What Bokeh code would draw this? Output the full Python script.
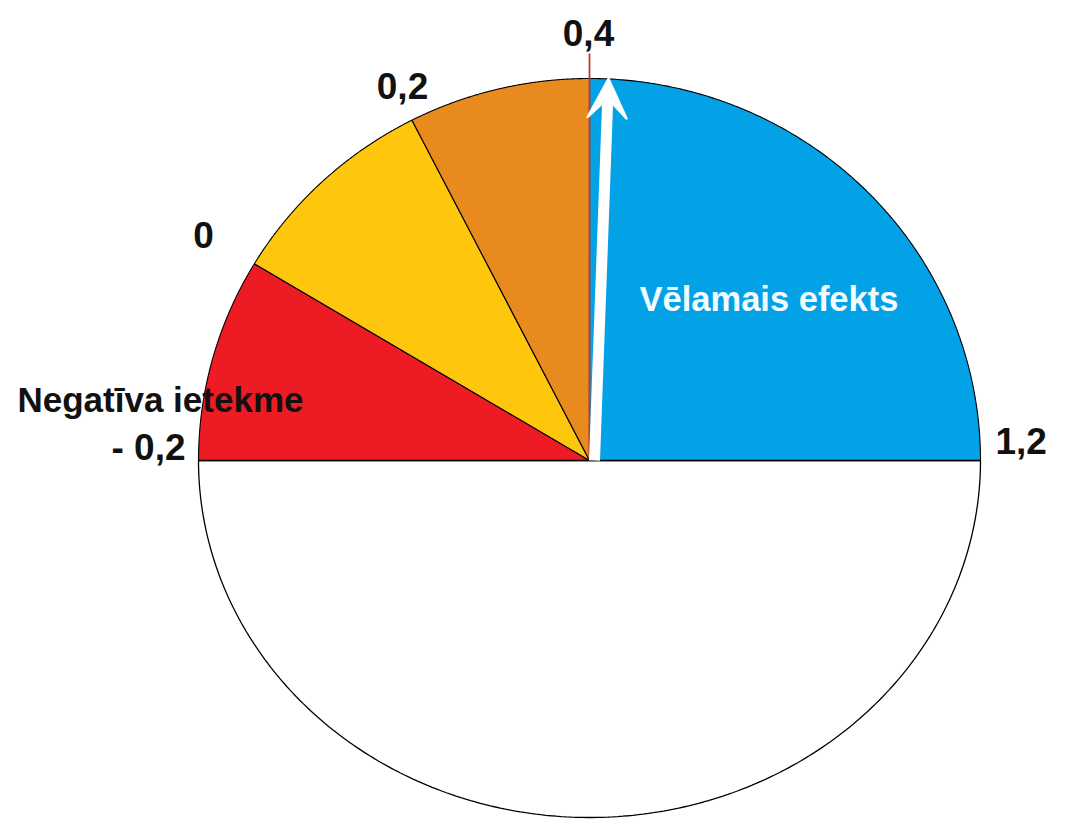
import numpy as np
from bokeh.plotting import figure
from bokeh.models import Range1d, Arrow, VeeHead, ColumnDataSource
from bokeh.core.properties import value
from bokeh.embed import file_html
from bokeh.resources import INLINE

# ---- data ----
segment_names = ["Negatīva ietekme", "", "", "Vēlamais efekts"]
segment_degrees = [31, 32, 27, 90]          # red, yellow, orange, blue (upper half, from 180° clockwise)
tick_labels = ["- 0,2", "0", "0,2", "0,4", "1,2"]

# ---- styles / layout ----
seg_colors = ["#ED1C24", "#FFC60E", "#E98A1F", "#03A1E6"]
W, H = 1050, 819
cx, cy = 589, 835 - 460    # centre in data units (= pixels, y up)
a, b_top, b_bot = 391, 382, 357

p = figure(width=W, height=H, output_backend="svg", toolbar_location=None,
           x_range=Range1d(0, W), y_range=Range1d(835 - H, 835),
           min_border=0, outline_line_color=None)
p.axis.visible = False
p.grid.visible = False
p.background_fill_color = "white"


def arc(t0, t1, b):
    t = np.radians(np.linspace(t0, t1, 240))
    return cx + a * np.cos(t), cy + b * np.sin(t)

# lower half (white)
xs, ys = arc(180, 360, b_bot)
p.patch(list(xs), list(ys), fill_color="white", line_color="black", line_width=1.3)

# upper segments
bounds = 180 - np.concatenate([[0], np.cumsum(segment_degrees)])
pxs, pys = [], []
for i in range(len(segment_degrees)):
    x, y = arc(bounds[i], bounds[i + 1], b_top)
    pxs.append([cx] + list(x) + [cx])
    pys.append([cy] + list(y) + [cy])
src = ColumnDataSource(dict(xs=pxs, ys=pys, color=seg_colors))
p.patches("xs", "ys", source=src, fill_color="color", line_color="black", line_width=1.1)

# diameter line
p.segment(x0=[cx - a], y0=[cy], x1=[cx + a], y1=[cy], line_color="black", line_width=1.3)

# red marker line at 0,4
p.segment(x0=[cx], y0=[cy], x1=[cx], y1=[cy + b_top + 25], line_color="#B5403A", line_width=1.8)

# white arrow
p.add_layout(Arrow(end=VeeHead(size=40, fill_color="white", line_color="white", line_width=2),
                   x_start=cx + 5, y_start=cy, x_end=cx + 19, y_end=cy + b_top,
                   line_color="white", line_width=11))

# tick labels
tick_x = [185, 203, 402, 588, 995]
tick_y = [835 - 447, 835 - 234, 835 - 85, 835 - 32, 835 - 440]
tick_align = ["right", "center", "center", "center", "left"]
p.text(x=tick_x, y=tick_y, text=tick_labels, text_align=tick_align,
       text_baseline="middle", text_font=value("Liberation Sans"), text_font_style="bold",
       text_font_size="37px", text_color="#111111")

# segment names
p.text(x=[17], y=[835 - 399], text=[segment_names[0]], text_align="left", text_baseline="middle",
       text_font=value("Liberation Sans"), text_font_style="bold", text_font_size="35px",
       text_color="#111111")
p.text(x=[639], y=[835 - 298], text=[segment_names[3]], text_align="left", text_baseline="middle",
       text_font=value("Liberation Sans"), text_font_style="bold", text_font_size="34.5px",
       text_color="#F4FBFF")

open("out.html", "w").write(file_html(p, INLINE))
